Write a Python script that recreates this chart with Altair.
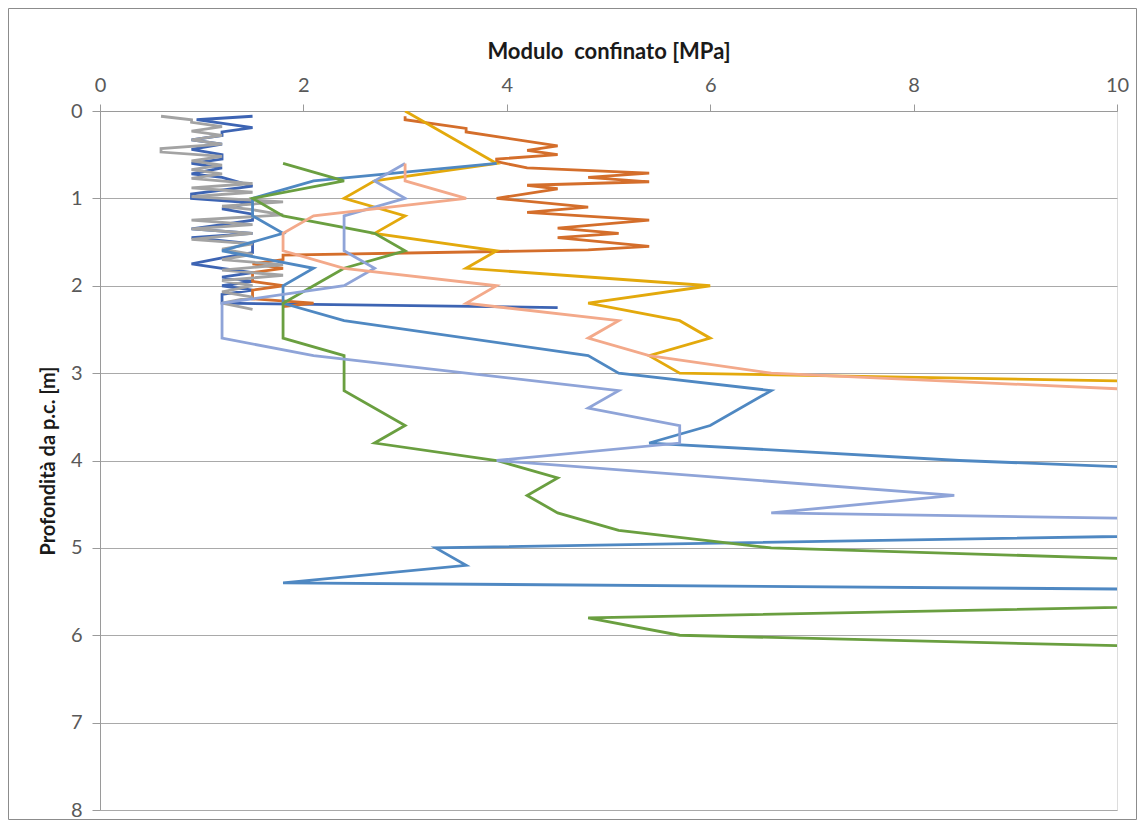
import altair as alt
import pandas as pd

# ---- data (x = Modulo confinato [MPa], y = depth [m]) ----
s1_x = [1.5, 0.95, 1.5, 1.2, 1.2, 0.9, 1.2, 0.9, 1.2, 1.2, 0.9, 1.2, 0.9, 1.2, 1.5, 0.9, 0.9, 1.5, 1.2, 1.5,
        1.5, 1.2, 0.9, 1.5, 0.9, 1.5, 1.5, 1.2, 0.9, 1.2, 1.5, 1.2, 1.5, 1.2, 1.5, 1.2, 1.2, 4.5]
s1_y = [0.06, 0.1, 0.19, 0.24, 0.28, 0.33, 0.38, 0.44, 0.5, 0.55, 0.6, 0.65, 0.72, 0.76, 0.86, 0.95, 1.0, 1.05, 1.12, 1.18,
        1.25, 1.3, 1.35, 1.4, 1.45, 1.52, 1.62, 1.68, 1.75, 1.8, 1.85, 1.9, 1.95, 2.0, 2.05, 2.1, 2.2, 2.25]

s2_x = [3.0, 3.0, 3.6, 3.6, 4.5, 4.2, 4.5, 3.9, 3.9, 4.2, 5.4, 4.8, 5.4, 4.2, 4.5, 3.9, 4.8, 4.2, 5.4, 4.5,
        5.1, 4.5, 5.4, 4.8, 1.8, 1.8, 1.5, 1.8, 1.5, 1.5, 1.8, 1.5, 1.5, 2.1, 1.8]
s2_y = [0.06, 0.1, 0.2, 0.24, 0.4, 0.45, 0.5, 0.55, 0.58, 0.65, 0.71, 0.76, 0.81, 0.85, 0.89, 1.0, 1.1, 1.16, 1.25, 1.34,
        1.4, 1.45, 1.55, 1.59, 1.65, 1.7, 1.75, 1.8, 1.85, 1.95, 2.0, 2.05, 2.15, 2.2, 2.24]

s3_x = [0.6, 0.9, 0.9, 1.2, 0.9, 1.2, 0.9, 1.2, 0.6, 0.6, 1.2, 0.9, 1.2, 0.9, 1.2, 0.9, 1.5, 0.9, 1.5, 0.9,
        1.8, 1.2, 1.5, 1.8, 0.9, 1.5, 0.9, 1.5, 0.9, 1.5, 1.2, 1.5, 1.2, 1.8, 1.2, 1.8, 1.2, 1.5, 1.2, 1.5,
        1.2, 1.5]
s3_y = [0.06, 0.1, 0.13, 0.18, 0.23, 0.28, 0.33, 0.38, 0.43, 0.47, 0.52, 0.57, 0.62, 0.67, 0.72, 0.77, 0.83, 0.88, 0.93, 0.98,
        1.04, 1.09, 1.13, 1.19, 1.25, 1.3, 1.35, 1.4, 1.47, 1.52, 1.58, 1.64, 1.7, 1.76, 1.82, 1.88, 1.94, 2.0, 2.07, 2.13,
        2.2, 2.27]

s4_x = [3.0, 3.9, 2.7, 2.4, 3.0, 2.7, 3.9, 3.6, 6.0, 4.8, 5.7, 6.0, 5.4, 5.7, 15.3]
s4_y = [0.0, 0.6, 0.8, 1.0, 1.2, 1.4, 1.6, 1.8, 2.0, 2.2, 2.4, 2.6, 2.8, 3.0, 3.2]

s5_x = [3.9, 2.1, 1.5, 1.5, 1.8, 1.2, 2.1, 1.8, 1.8, 2.4, 4.8, 5.1, 6.6, 6.0, 5.4, 8.45, 12.9, 13.6, 3.3, 3.6,
        1.8, 25.0]
s5_y = [0.6, 0.8, 1.0, 1.2, 1.4, 1.6, 1.8, 2.0, 2.2, 2.4, 2.8, 3.0, 3.2, 3.6, 3.8, 4.0, 4.2, 4.8, 5.0, 5.2,
        5.4, 5.6]

s6_x = [1.8, 2.4, 1.5, 1.8, 2.7, 3.0, 2.4, 2.1, 1.8, 1.8, 2.4, 2.4, 3.0, 2.7, 3.9, 4.5, 4.2, 4.5, 5.1, 6.6,
        12.3, 13.5, 4.8, 5.7, 12.9]
s6_y = [0.6, 0.8, 1.0, 1.2, 1.4, 1.6, 1.8, 2.0, 2.2, 2.6, 2.8, 3.2, 3.6, 3.8, 4.0, 4.2, 4.4, 4.6, 4.8, 5.0,
        5.2, 5.6, 5.8, 6.0, 6.2]

s7_x = [3.0, 2.7, 3.0, 2.4, 2.4, 2.7, 2.4, 1.2, 1.2, 2.1, 5.1, 4.8, 5.7, 5.7, 3.9, 8.4, 6.6, 17.9]
s7_y = [0.6, 0.8, 1.0, 1.2, 1.6, 1.8, 2.0, 2.2, 2.6, 2.8, 3.2, 3.4, 3.6, 3.8, 4.0, 4.4, 4.6, 4.8]

s8_x = [3.0, 3.0, 3.6, 2.1, 1.8, 1.8, 2.4, 3.9, 3.6, 5.1, 4.8, 5.4, 6.6, 10.4]
s8_y = [0.6, 0.8, 1.0, 1.2, 1.4, 1.6, 1.8, 2.0, 2.2, 2.4, 2.6, 2.8, 3.0, 3.2]

series_names = ["S1", "S2", "S3", "S4", "S5", "S6", "S7", "S8"]
series_colors = ["#3D64B3", "#D46E2B", "#A3A3A3", "#E3A90C", "#4F88C2", "#6A9F40", "#8FA4D8", "#F3A98A"]
all_x = [s1_x, s2_x, s3_x, s4_x, s5_x, s6_x, s7_x, s8_x]
all_y = [s1_y, s2_y, s3_y, s4_y, s5_y, s6_y, s7_y, s8_y]

x_ticks = [0, 2, 4, 6, 8, 10]
y_ticks = [0, 1, 2, 3, 4, 5, 6, 7, 8]

rows = []
for k, (name, xs, ys) in enumerate(zip(series_names, all_x, all_y)):
    for i, (xv, yv) in enumerate(zip(xs, ys)):
        rows.append({"serie": name, "k": k, "i": i, "M": xv, "z": yv})
df = pd.DataFrame(rows)

W, H = 1017, 699
FONT = "Lato"

lines = alt.Chart(df).mark_line(strokeWidth=2.8, clip=True).encode(
    x=alt.X("M:Q",
            scale=alt.Scale(domain=[0, 10], nice=False, zero=False),
            axis=alt.Axis(orient="top", values=x_ticks, grid=False,
                          title="Modulo\u00a0 confinato [MPa]",
                          titleFontSize=22, titleFontWeight="bold", titleColor="#1a1a1a",
                          titleFont=FONT, titlePadding=12,
                          labelFontSize=20, labelColor="#595959", labelFont=FONT,
                          labelPadding=9, tickSize=7, tickColor="#9a9a9a",
                          domainColor="#9a9a9a", labelFlush=False)),
    y=alt.Y("z:Q",
            scale=alt.Scale(domain=[0, 8], reverse=True, nice=False, zero=False),
            axis=alt.Axis(values=y_ticks, grid=True, gridColor="#a9a9a9", gridWidth=1.2,
                          title="Profondità da p.c. [m]",
                          titleFontSize=20, titleFontWeight="bold", titleColor="#1a1a1a",
                          titleFont=FONT, titlePadding=12,
                          labelFontSize=20, labelColor="#595959", labelFont=FONT,
                          labelPadding=10, tickSize=8, tickColor="#9a9a9a",
                          domainColor="#9a9a9a", labelFlush=False)),
    color=alt.Color("serie:N", scale=alt.Scale(domain=series_names, range=series_colors), legend=None),
    order=alt.Order("i:Q"),
    detail="serie:N",
)

frame = alt.Chart(pd.DataFrame({"a": [0]})).mark_rect(
    fill="transparent", stroke="#8c8c8c", strokeWidth=1, clip=False
).encode(
    x=alt.value(-91.5), x2=alt.value(W + 19.5),
    y=alt.value(-102.5), y2=alt.value(H + 9.5),
)

chart = alt.layer(frame, lines).properties(
    width=W, height=H,
    autosize=alt.AutoSizeParams(type="none"),
    padding={"left": 92, "top": 103, "right": 20, "bottom": 11},
).configure_view(stroke="transparent", strokeWidth=0).configure(background="white")

chart.save("out.html", embed_options={"renderer": "svg", "actions": False})
